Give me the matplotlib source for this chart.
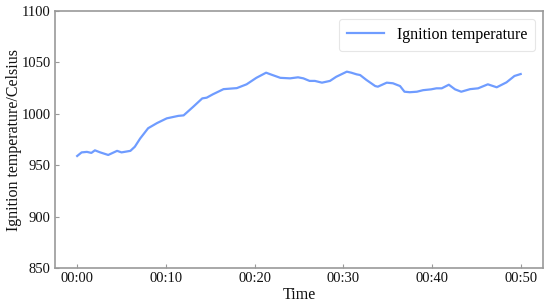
import matplotlib
matplotlib.use("Agg")
import matplotlib.pyplot as plt

minutes = [0, 0.5, 1.1, 1.6, 2.0, 2.6, 3.5, 4.5, 5.0, 6.0, 6.5, 7.1, 8.0, 9.0, 10.1,
           11.4, 12.0, 13.1, 14.1, 14.6, 15.3, 16.5, 18.0, 19.1, 20.2, 21.3, 21.7,
           22.9, 24.0, 24.9, 25.5, 26.2, 26.8, 27.6, 28.5, 29.2, 30.4, 30.9, 31.5,
           31.9, 32.6, 33.6, 33.9, 34.9, 35.6, 36.4, 36.9, 37.5, 38.3, 39.0, 39.9,
           40.5, 41.1, 41.9, 42.6, 43.3, 44.3, 45.2, 46.3, 47.3, 48.4, 49.3, 50.0]
temps = [959, 962.5, 963, 962, 964.5, 962.5, 960, 964, 962.5, 964, 968, 976, 986, 991, 995.6,
         998, 998.5, 1007, 1015, 1015.7, 1019, 1024, 1025, 1028.7, 1035, 1040, 1038.7,
         1035, 1034.5, 1035.5, 1034.5, 1032, 1032, 1030.3, 1032, 1036, 1041, 1040, 1038.4,
         1037.7, 1033, 1027, 1026.4, 1030.3, 1029.7, 1027, 1021.5, 1021, 1021.5, 1023, 1023.8,
         1024.8, 1024.8, 1028.3, 1023.8, 1021.5, 1024, 1024.8, 1028.7, 1025.8, 1030.6, 1036.8, 1038.7]
xticks = [0, 10, 20, 30, 40, 50]
xtick_labels = ["00:00", "00:10", "00:20", "00:30", "00:40", "00:50"]
yticks = [850, 900, 950, 1000, 1050, 1100]

plt.rcParams['font.family'] = ['Liberation Serif', 'DejaVu Serif']

fig = plt.figure(figsize=(5.5, 3.05), dpi=100)
ax = fig.add_axes([0.1, 0.121, 0.887, 0.843])
ax.plot(minutes, temps, color='#6f9cff', linewidth=1.6, label='Ignition temperature')
ax.set_xlim(-2.5, 52.5)
ax.set_ylim(850, 1100)
ax.set_xticks(xticks)
ax.set_xticklabels(xtick_labels)
ax.set_yticks(yticks)
for s in ax.spines.values():
    s.set_color('#999999')
    s.set_linewidth(1.2)
ax.tick_params(direction='in', length=3, width=0.8, color='#999999', labelsize=10.5,
               labelcolor='#111111', pad=3)
ax.set_xlabel('Time', fontsize=11.5, color='#111111')
ax.set_ylabel('Ignition temperature/Celsius', fontsize=11.5, color='#111111')
ax.xaxis.set_label_coords(0.5, -0.105, transform=ax.transAxes)
ax.yaxis.set_label_coords(-0.084, 0.5, transform=ax.transAxes)
ax.xaxis.label.set_va('center')
ax.yaxis.label.set_va('center')
leg = ax.legend(loc='upper right', fontsize=11.5, frameon=True, fancybox=True,
                handlelength=2.3, borderpad=0.5)
leg.get_frame().set_edgecolor('#e0e0e0')
leg.get_frame().set_linewidth(0.8)
fig.savefig('out.png', dpi=100)
